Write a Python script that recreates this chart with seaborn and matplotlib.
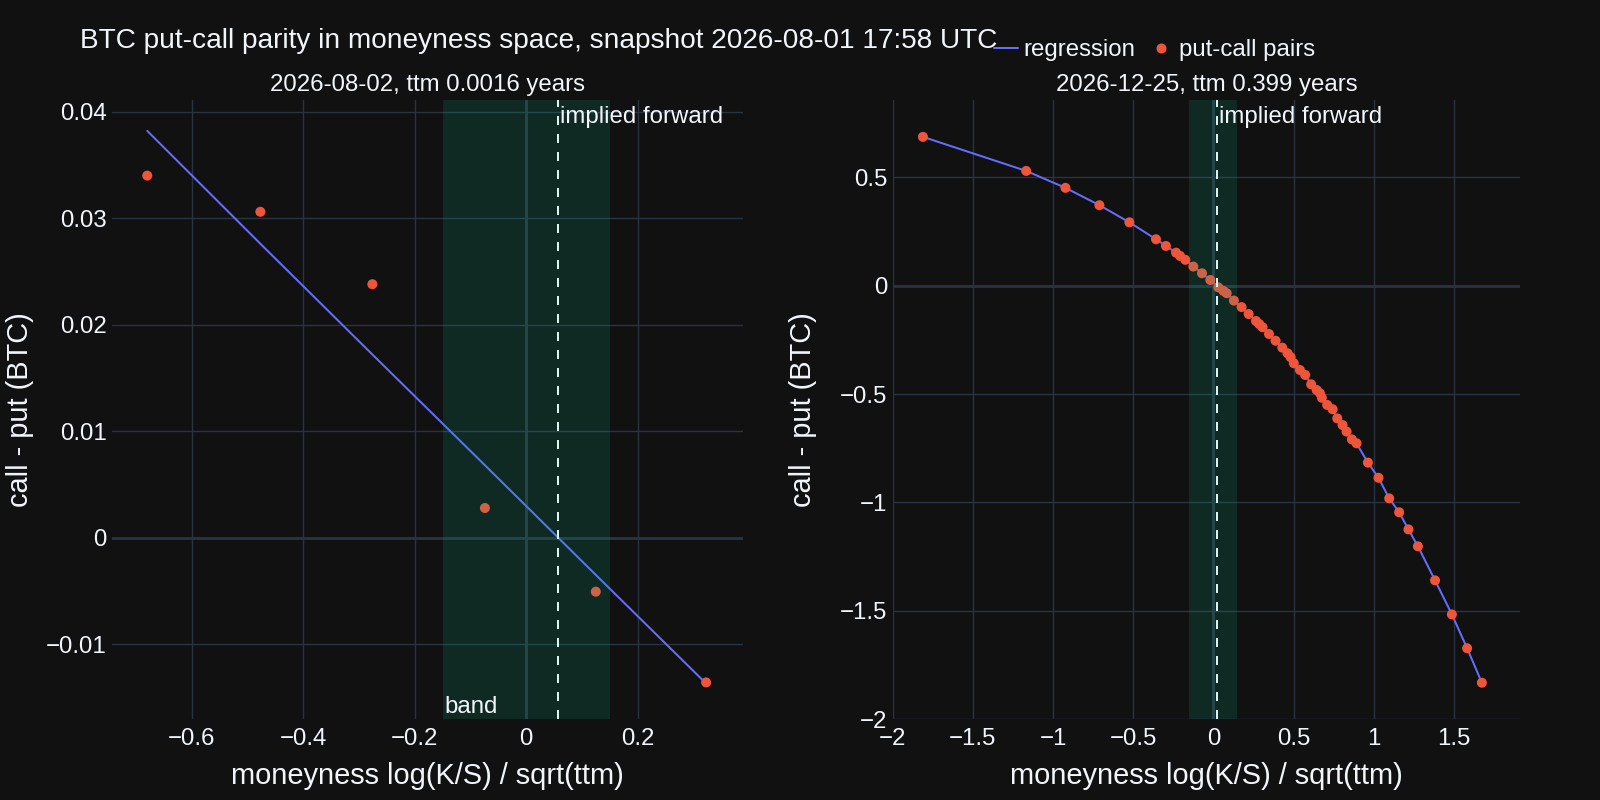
import numpy as np
import pandas as pd
import matplotlib
matplotlib.use('Agg')
import matplotlib.pyplot as plt
from matplotlib.lines import Line2D
from matplotlib.ticker import FuncFormatter, MultipleLocator
import seaborn as sns

# ---- data ----
title = "BTC put-call parity in moneyness space, snapshot 2026-08-01 17:58 UTC"
left_title = "2026-08-02, ttm 0.0016 years"
right_title = "2026-12-25, ttm 0.399 years"

left_x = [-0.680, -0.477, -0.276, -0.074, 0.125, 0.323]
left_y = [0.0340, 0.0306, 0.0238, 0.00278, -0.00508, -0.0136]
left_fit = [0.0382, 0.0276, 0.0172, 0.0068, -0.0035, -0.0137]
left_forward = 0.0577

right_x = [-1.812, -1.168, -0.923, -0.711, -0.524, -0.358, -0.296, -0.233, -0.208,
           -0.175, -0.125, -0.071, -0.019, 0.031, 0.062, 0.083, 0.128, 0.176, 0.220,
           0.266, 0.286, 0.307, 0.347, 0.388, 0.430, 0.463, 0.482, 0.502, 0.540,
           0.573, 0.610, 0.644, 0.665, 0.677, 0.710, 0.744, 0.773, 0.806, 0.831,
           0.864, 0.893, 0.964, 1.030, 1.097, 1.159, 1.217, 1.276, 1.383, 1.488,
           1.583, 1.675]
right_y = [0.686, 0.529, 0.451, 0.371, 0.292, 0.214, 0.183, 0.152, 0.137,
           0.119, 0.088, 0.057, 0.026, -0.008, -0.024, -0.035, -0.069, -0.099, -0.131,
           -0.163, -0.177, -0.192, -0.223, -0.254, -0.286, -0.312, -0.330, -0.358, -0.389,
           -0.412, -0.455, -0.481, -0.496, -0.517, -0.550, -0.570, -0.612, -0.643, -0.673,
           -0.709, -0.727, -0.816, -0.886, -0.981, -1.045, -1.124, -1.202, -1.359, -1.516,
           -1.672, -1.831]
right_fit = right_y  # fitted curve runs through the pairs
right_forward = 0.020

band = (-0.15, 0.15)

# ---- style ----
BG = '#111111'
GRID = '#283442'
TEXT = '#f2f5fa'
LINE = '#636efa'
DOT = '#EF553B'
BAND = '#0ab890'

sns.set_theme(style='dark', rc={
    'figure.facecolor': BG,
    'axes.facecolor': BG,
    'savefig.facecolor': BG,
    'text.color': TEXT,
    'axes.labelcolor': TEXT,
    'xtick.color': TEXT,
    'ytick.color': TEXT,
})
plt.rcParams['font.family'] = ['Liberation Sans', 'DejaVu Sans']

PX = 72 / 100  # points per pixel at dpi 100
FS = 24 * PX   # base font

fig = plt.figure(figsize=(16, 8), dpi=100)
ax_l = fig.add_axes([0.0701, 0.1008, 0.3942, 0.7742])
ax_r = fig.add_axes([0.558, 0.1008, 0.392, 0.7742])


def fmt(v, pos):
    s = f'{v:.6g}'
    if s in ('-0', '0.0'):
        s = '0'
    return s.replace('-', '\u2212')


def draw_panel(ax, xs, ys, fit, fwd, xlim, ylim, xstep, ystep, sub):
    df = pd.DataFrame({'m': xs, 'cp': ys, 'fit': fit})
    ax.grid(True, color=GRID, lw=1, zorder=0)
    ax.axhline(0, color=GRID, lw=2, zorder=1)
    ax.axvline(0, color=GRID, lw=2, zorder=1)
    sns.lineplot(data=df, x='m', y='fit', ax=ax, color=LINE, lw=2 * PX,
                 estimator=None, sort=False, zorder=2)
    sns.scatterplot(data=df, x='m', y='cp', ax=ax, color=DOT, s=(10 * PX) ** 2,
                    edgecolor='none', linewidth=0, zorder=3)
    ax.axvline(fwd, color='white', lw=2 * PX, ls=(0, (4.5, 4.5)), zorder=3.5)
    ax.axvspan(band[0], band[1], color=BAND, alpha=0.15, lw=0, zorder=4)
    ax.annotate('implied forward', xy=(fwd, 1), xycoords=ax.get_xaxis_transform(),
                xytext=(1.5, -4), textcoords='offset points', ha='left', va='top',
                fontsize=FS, color=TEXT, zorder=6)
    ax.set_xlim(*xlim)
    ax.set_ylim(*ylim)
    ax.xaxis.set_major_locator(MultipleLocator(xstep))
    ax.yaxis.set_major_locator(MultipleLocator(ystep))
    ax.xaxis.set_major_formatter(FuncFormatter(fmt))
    ax.yaxis.set_major_formatter(FuncFormatter(fmt))
    ax.tick_params(axis='both', length=0, labelsize=FS)
    ax.tick_params(axis='x', pad=6)
    ax.tick_params(axis='y', pad=4)
    for sp in ax.spines.values():
        sp.set_visible(False)
    ax.set_xlabel('')
    ax.set_ylabel('')
    pos = ax.get_position()
    cx = (pos.x0 + pos.x1) / 2
    fig.text(cx, 0.894, sub, ha='center', va='center', fontsize=24 * PX, color=TEXT)
    fig.text(cx, 0.030, 'moneyness log(K/S) / sqrt(ttm)', ha='center', va='center',
             fontsize=29 * PX, color=TEXT)


draw_panel(ax_l, left_x, left_y, left_fit, left_forward,
           (-0.743, 0.389), (-0.01707, 0.0411), 0.2, 0.01, left_title)
draw_panel(ax_r, right_x, right_y, right_fit, right_forward,
           (-2.0, 1.913), (-2.0, 0.856), 0.5, 0.5, right_title)

ax_l.annotate('band', xy=(band[0], 0), xycoords=ax_l.get_xaxis_transform(),
              xytext=(1.5, 1), textcoords='offset points', ha='left', va='bottom',
              fontsize=FS, color=TEXT, zorder=6)

fig.text(0.0125, 0.488, 'call - put (BTC)', rotation=90, ha='center', va='center',
         fontsize=29 * PX, color=TEXT)
fig.text(0.502, 0.488, 'call - put (BTC)', rotation=90, ha='center', va='center',
         fontsize=29 * PX, color=TEXT)

fig.text(0.0497, 0.949, title, ha='left', va='center', fontsize=28 * PX, color=TEXT)

handles = [Line2D([], [], color=LINE, lw=2 * PX),
           Line2D([], [], color=DOT, marker='o', ls='none', markersize=10 * PX,
                  markeredgewidth=0)]
fig.legend(handles, ['regression', 'put-call pairs'], loc='center left',
           bbox_to_anchor=(0.621, 0.937), ncol=2, frameon=False,
           fontsize=FS, handlelength=1.0, handletextpad=0.25,
           columnspacing=0.55, borderpad=0, borderaxespad=0, labelcolor=TEXT)

fig.savefig('out.png', dpi=100, facecolor=BG)
